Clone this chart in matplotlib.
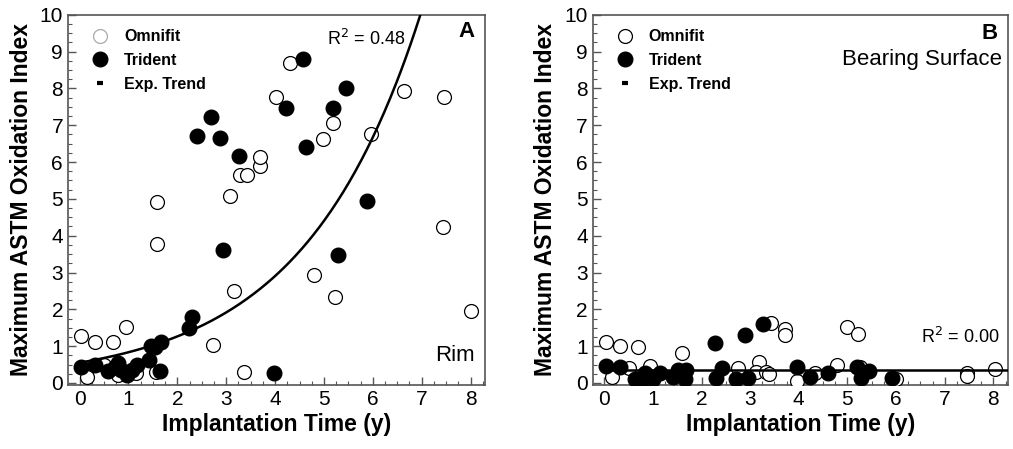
#!/usr/bin/env python3
"""Maximum ASTM oxidation index vs implantation time, rim (A) and bearing surface (B)."""

import numpy as np
import matplotlib
matplotlib.use('Agg')
import matplotlib.pyplot as plt
from matplotlib.lines import Line2D
from matplotlib.ticker import MultipleLocator

plt.rcParams['font.family'] = ['Liberation Sans', 'DejaVu Sans']

# Panel A: rim
rim_omnifit_x = [0.03, 0.31, 0.69, 0.94, 0.16, 0.49, 0.79, 1.16, 1.57, 1.59, 1.59,
                 2.73, 3.16, 3.36, 3.08, 3.28, 3.42, 3.69, 3.69, 4.01, 4.30, 4.98,
                 5.19, 5.96, 6.64, 7.45, 7.43, 8.01, 4.79, 5.23]
rim_omnifit_y = [1.28, 1.10, 1.10, 1.51, 0.17, 0.49, 0.22, 0.27, 0.30, 3.78, 4.92,
                 1.03, 2.50, 0.30, 5.08, 5.65, 5.65, 5.90, 6.15, 7.78, 8.70, 6.63,
                 7.06, 6.77, 7.94, 7.76, 4.23, 1.96, 2.92, 2.33]
rim_trident_x = [0.03, 0.32, 0.59, 0.79, 0.72, 0.84, 0.98, 1.08, 1.17, 1.42, 1.46,
                 1.54, 1.66, 1.64, 2.23, 2.29, 2.93, 3.97, 2.68, 2.40, 2.87, 3.26,
                 4.22, 4.58, 4.64, 5.18, 5.45, 5.88, 5.28]
rim_trident_y = [0.44, 0.49, 0.33, 0.53, 0.42, 0.35, 0.22, 0.35, 0.49, 0.63, 1.00,
                 0.99, 1.10, 0.33, 1.49, 1.79, 3.61, 0.27, 7.22, 6.72, 6.65, 6.17,
                 7.48, 8.80, 6.40, 7.48, 8.00, 4.95, 3.48]
rim_fit_a, rim_fit_b = 0.55, 0.416
rim_fit_xmax = 7.2
rim_r2 = 0.48

# Panel B: bearing surface
bear_omnifit_x = [0.04, 0.33, 0.70, 1.60, 0.16, 0.50, 0.95, 2.74, 3.18, 3.11, 3.32,
                  3.38, 3.43, 3.71, 3.71, 3.96, 4.33, 4.79, 5.00, 5.21, 5.25, 5.99,
                  7.45, 7.45, 8.03]
bear_omnifit_y = [1.10, 1.00, 0.97, 0.81, 0.15, 0.40, 0.46, 0.40, 0.58, 0.31, 0.31,
                  0.24, 1.62, 1.46, 1.30, 0.05, 0.26, 0.49, 1.51, 1.33, 0.44, 0.11,
                  0.28, 0.19, 0.37]
bear_trident_x = [0.04, 0.33, 0.63, 0.80, 0.84, 1.01, 1.14, 0.92, 1.41, 1.52, 1.68,
                  1.67, 2.27, 2.30, 2.42, 2.89, 2.70, 2.96, 3.26, 3.96, 4.23, 4.60,
                  5.20, 5.28, 5.45, 5.91]
bear_trident_y = [0.46, 0.44, 0.10, 0.12, 0.28, 0.10, 0.26, 0.20, 0.17, 0.35, 0.35,
                  0.10, 1.08, 0.13, 0.40, 1.29, 0.10, 0.13, 1.60, 0.44, 0.15, 0.26,
                  0.42, 0.13, 0.33, 0.13]
bear_fit_a, bear_fit_b = 0.34, 0.0
bear_fit_xmax = 8.3
bear_r2 = 0.00

SPINE = '#555555'


def style_axes(ax):
    ax.set_xlim(-0.24, 8.3)
    ax.set_ylim(-0.05, 10)
    ax.xaxis.set_major_locator(MultipleLocator(1))
    ax.xaxis.set_minor_locator(MultipleLocator(0.25))
    ax.yaxis.set_major_locator(MultipleLocator(1))
    ax.yaxis.set_minor_locator(MultipleLocator(0.25))
    ax.tick_params(which='both', direction='in', color=SPINE, labelsize=15)
    ax.tick_params(which='major', length=6, width=1)
    ax.tick_params(which='minor', length=3, width=0.8)
    for s in ax.spines.values():
        s.set_color(SPINE)
        s.set_linewidth(1.2)
    ax.set_xlabel('Implantation Time (y)', fontsize=16.5, fontweight='bold', labelpad=3)
    ax.set_ylabel('Maximum ASTM Oxidation Index', fontsize=16.5, fontweight='bold', labelpad=5)


def draw_panel(ax, ox, oy, tx, ty, a, b, xmax, legend_circle):
    ax.plot(ox, oy, 'o', ms=10, mfc='white', mec='black', mew=0.9, ls='none', zorder=3)
    ax.plot(tx, ty, 'o', ms=10.5, mfc='black', mec='black', ls='none', zorder=4)
    xs = np.linspace(0, xmax, 300)
    ax.plot(xs, a * np.exp(b * xs), color='black', lw=1.8, zorder=5)
    handles = [
        Line2D([], [], marker='o', ms=10, mfc='white', mec=legend_circle, mew=0.9, ls='none'),
        Line2D([], [], marker='o', ms=10.5, mfc='black', mec='black', ls='none'),
        Line2D([], [], marker='_', ms=5, mew=3, color='black', ls='none'),
    ]
    leg = ax.legend(handles, ['Omnifit', 'Trident', 'Exp. Trend'], loc='upper left',
                    bbox_to_anchor=(0.02, 1.0), frameon=False, handlelength=1.2,
                    handletextpad=0.9, labelspacing=0.55,
                    prop={'weight': 'bold', 'size': 11.5})
    return leg


fig = plt.figure(figsize=(10.13, 4.49), dpi=100)
ax_a = fig.add_axes([0.067, 0.143, 0.412, 0.824])
ax_b = fig.add_axes([0.585, 0.143, 0.410, 0.824])

draw_panel(ax_a, rim_omnifit_x, rim_omnifit_y, rim_trident_x, rim_trident_y,
           rim_fit_a, rim_fit_b, rim_fit_xmax, '#aaaaaa')
draw_panel(ax_b, bear_omnifit_x, bear_omnifit_y, bear_trident_x, bear_trident_y,
           bear_fit_a, bear_fit_b, bear_fit_xmax, 'black')

for ax in (ax_a, ax_b):
    style_axes(ax)

ax_a.text(0.62, 0.935, f'R$^2$ = {rim_r2:.2f}', transform=ax_a.transAxes, fontsize=13,
          ha='left', va='center')
ax_a.text(0.975, 0.955, 'A', transform=ax_a.transAxes, fontsize=16, fontweight='bold',
          ha='right', va='center')
ax_a.text(0.975, 0.08, 'Rim', transform=ax_a.transAxes, fontsize=16, ha='right', va='center')

ax_b.text(0.98, 0.13, f'R$^2$ = {bear_r2:.2f}', transform=ax_b.transAxes, fontsize=13,
          ha='right', va='center')
ax_b.text(0.975, 0.95, 'B', transform=ax_b.transAxes, fontsize=16, fontweight='bold',
          ha='right', va='center')
ax_b.text(0.985, 0.88, 'Bearing Surface', transform=ax_b.transAxes, fontsize=16,
          ha='right', va='center')

plt.savefig('out.png', dpi=100)
plt.close()
